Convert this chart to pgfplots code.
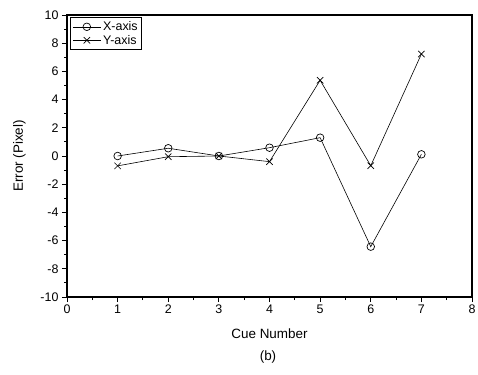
\documentclass[border=0pt]{standalone}
\usepackage{pgfplots}
\pgfplotsset{compat=1.18}
\usepackage{fontspec}
\setmainfont{Liberation Sans}
\begin{document}
\begin{tikzpicture}[x=1bp,y=1bp]
\path[use as bounding box] (-67,-77) rectangle (411,297);
\begin{axis}[
  at={(0,0)}, anchor=south west,
  width=405bp, height=282bp, scale only axis,
  xmin=0, xmax=8, ymin=-10, ymax=10,
  xtick={0,1,...,8}, ytick={-10,-8,...,10},
  minor x tick num=1, minor y tick num=1,
  tick align=outside, xtick pos=bottom, ytick pos=left,
  major tick length=5bp, minor tick length=3bp,
  every tick/.style={black, line width=0.9pt},
  axis line style={line width=1.2pt},
  /pgf/number format/assume math mode=true,
  ticklabel style={font=\fontsize{12.5}{14}\selectfont},
  xticklabel style={yshift=1bp},
  xlabel={Cue Number}, ylabel={Error (Pixel)},
  label style={font=\fontsize{13.5}{15}\selectfont},
  xlabel style={yshift=-9bp},
  ylabel style={yshift=8bp},
  legend style={at={(0.008,0.992)}, anchor=north west, draw=black, line width=0.6pt,
    font=\fontsize{12.5}{14}\selectfont, inner sep=2bp, row sep=-1bp,
    cells={anchor=west}},
  legend cell align=left,
  legend image code/.code={\draw[#1] (0bp,0bp) -- (28bp,0bp);
    \draw[#1] plot coordinates {(14bp,0bp)};},
]
\addplot[black, line width=0.6pt, mark=o, mark size=3.8bp, mark options={solid, line width=0.7pt}]
 coordinates {(1,0.0) (2,0.55) (3,0.0) (4,0.59) (5,1.3) (6,-6.43) (7,0.12)};
\addlegendentry{X-axis}
\addplot[black, line width=0.6pt, mark=x, mark size=4.5bp, mark options={solid, line width=0.7pt}]
 coordinates {(1,-0.7) (2,-0.05) (3,0.0) (4,-0.4) (5,5.37) (6,-0.69) (7,7.23)};
\addlegendentry{Y-axis}
\end{axis}
\node[font=\fontsize{13.5}{15}\selectfont] at (201,-60) {(b)};
\end{tikzpicture}
\end{document}
